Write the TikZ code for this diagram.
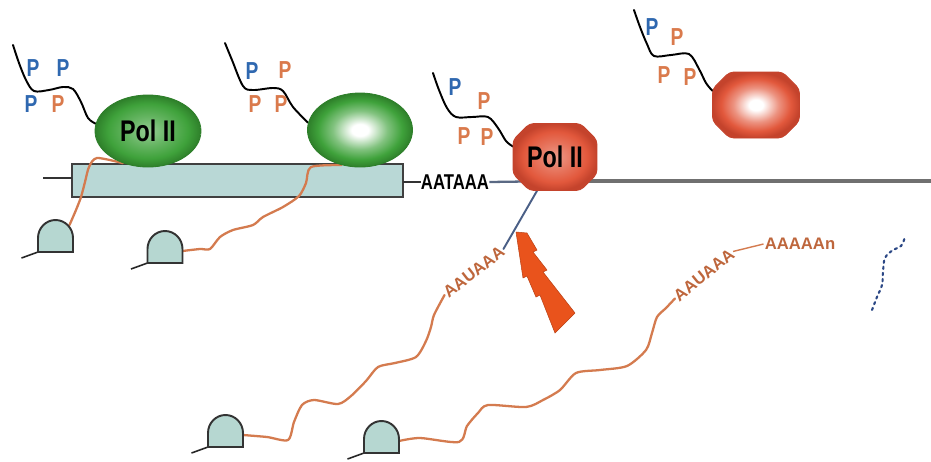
\documentclass[tikz,border=0pt]{standalone}
\usepackage{fontspec}
\setmainfont{Liberation Sans}
\newfontfamily\condbf{Liberation Sans}[FakeStretch=0.78]
\usetikzlibrary{shapes.geometric}

\definecolor{polgreen}{HTML}{3FA23B}
\definecolor{polgreendark}{HTML}{2E7F2A}
\definecolor{polred}{HTML}{E2583C}
\definecolor{polreddark}{HTML}{C4432C}
\definecolor{rnaorange}{HTML}{D47B4F}
\definecolor{rnatext}{HTML}{BE663C}
\definecolor{pblue}{HTML}{2F68B0}
\definecolor{porange}{HTML}{DA7A4C}
\definecolor{genefill}{HTML}{B9D8D6}
\definecolor{capfill}{HTML}{B6D7D1}
\definecolor{boltred}{HTML}{E9531C}
\definecolor{dnagray}{HTML}{707070}
\definecolor{stubblue}{HTML}{4A5F86}
\definecolor{dotblue}{HTML}{2B4785}

\pgfdeclareradialshading{greenglow}{\pgfpoint{0bp}{0bp}}{color(0bp)=(white); color(4bp)=(white); color(13bp)=(polgreen!65!white); color(20bp)=(polgreen); color(25bp)=(polgreendark); color(50bp)=(polgreendark)}
\pgfdeclareradialshading{greenflat}{\pgfpoint{0bp}{0bp}}{color(0bp)=(polgreen!55!white); color(10bp)=(polgreen!80!white); color(19bp)=(polgreen); color(25bp)=(polgreendark); color(50bp)=(polgreendark)}
\pgfdeclareradialshading{redglow}{\pgfpoint{0bp}{0bp}}{color(0bp)=(white); color(4bp)=(white); color(13bp)=(polred!65!white); color(20bp)=(polred); color(25bp)=(polreddark); color(50bp)=(polreddark)}
\pgfdeclareradialshading{redflat}{\pgfpoint{0bp}{0bp}}{color(0bp)=(polred!60!white); color(10bp)=(polred!82!white); color(19bp)=(polred); color(25bp)=(polreddark); color(50bp)=(polreddark)}

\pgfdeclarelayer{bg}
\pgfdeclarelayer{mid}
\pgfsetlayers{bg,mid,main}

\begin{document}
\begin{tikzpicture}[x=0.02cm, y=-0.02cm,
  ctd/.style={line width=1.1pt, black, line cap=round, line join=round},
  rna/.style={line width=1.3pt, rnaorange, line cap=round, line join=round},
  stub/.style={line width=1.1pt, stubblue, line cap=round},
  dnathin/.style={line width=1.0pt, black!80},
  dnablue/.style={line width=1.3pt, stubblue!70!gray},
  dnathick/.style={line width=2.2pt, dnagray},
  genebox/.style={draw=black!75, line width=1.2pt, fill=genefill, minimum width=6.62cm, minimum height=0.66cm, inner sep=0pt, outer sep=0pt},
  polegg/.style={ellipse, shade, draw=polgreendark, line width=0.5pt, inner sep=0pt},
  polframe/.style={rectangle, inner sep=0pt, outer sep=0pt},
  octline/.style={draw=polreddark, line width=0.5pt, rounded corners=2.5pt},
  poltext/.style={font=\condbf\bfseries\fontsize{17}{17}\selectfont, text=black},
  ptext/.style={font=\condbf\bfseries\fontsize{14}{14}\selectfont, inner sep=0pt},
  pb/.style={ptext, text=pblue},
  po/.style={ptext, text=porange},
  signal/.style={font=\condbf\bfseries\fontsize{12.2}{12.2}\selectfont, inner sep=0pt, text=black},
  rnaseq/.style={font=\bfseries\fontsize{9.5}{9.5}\selectfont, inner sep=0.5pt, text=rnatext},
  capdome/.pic={
    \draw[line width=0.9pt, black!85] (-17.5,0) -- (-34,6);
    \draw[line width=1.1pt, black!80, fill=capfill]
      (-17.5,0) -- (-17.5,-14) to[out=90,in=180] (0,-32)
      to[out=0,in=90] (17.5,-14) -- (17.5,0) -- cycle;
    \coordinate (-east) at (17.5,-12);
    \coordinate (-ne) at (14,-27);
  }]

\newcommand\octagonpath[2]{%
  ([xshift=#2]#1.north west) -- ([xshift=-#2]#1.north east)
  -- ([yshift=-#2]#1.north east) -- ([yshift=#2]#1.south east)
  -- ([xshift=-#2]#1.south east) -- ([xshift=#2]#1.south west)
  -- ([yshift=#2]#1.south west) -- ([yshift=-#2]#1.north west) -- cycle}

\useasboundingbox (0,0) rectangle (931,461);

% white sheet and gene body on the template
\begin{pgfonlayer}{bg}
  \fill[white] (0,0) rectangle (931,461);
  \node[genebox] (gene) at (237.5,180.5) {};
\end{pgfonlayer}

% polymerases
\node[polegg, shading=greenflat, minimum width=2.12cm, minimum height=1.44cm] (pol1) at (148,131) {};
\node[poltext] (pol1txt) at (pol1.center) {Pol II};
\node[polegg, shading=greenglow, minimum width=2.1cm, minimum height=1.48cm] (pol2) at (360,130) {};

\node[polframe, minimum width=1.68cm, minimum height=1.34cm] (pol3) at (555,157) {};
\shade[shading=redflat, octline] \octagonpath{pol3}{0.33cm};
\node[poltext] (pol3txt) at (pol3.center) {Pol II};
\node[polframe, minimum width=1.74cm, minimum height=1.32cm] (pol4) at (756,105) {};
\shade[shading=redglow, octline] \octagonpath{pol4}{0.34cm};

% polyadenylation signal in the DNA
\node[signal] (sig) at (455,182) {AATAAA};

% capped transcripts
\pic (c1) at (55.5,252) {capdome};
\pic (c2) at (165,263) {capdome};
\pic (c3) at (225.5,447) {capdome};
\pic (c4) at (381.5,453) {capdome};

% RNA signal sequences and poly(A) tail
\node[rnaseq, rotate=38] (aau1) at (474,272) {AAUAAA};
\node[rnaseq, rotate=39] (aau2) at (704,275) {AAUAAA};
\node[rnaseq] (polyA) at (800,244) {AAAAAn};

% phosphorylated CTD residues
\node[pb] (p1a) at (33,68) {P};
\node[pb] (p1b) at (63,68) {P};
\node[pb] (p1c) at (31,104) {P};
\node[po] (p1d) at (58,104) {P};
\node[pb] (p2a) at (252,71) {P};
\node[po] (p2b) at (285,70) {P};
\node[po] (p2c) at (255,104) {P};
\node[po] (p2d) at (281,104) {P};
\node[pb] (p3a) at (455,87) {P};
\node[po] (p3b) at (484,101) {P};
\node[po] (p3c) at (464,136) {P};
\node[po] (p3d) at (487,137) {P};
\node[pb] (p4a) at (652,27) {P};
\node[po] (p4b) at (677,37) {P};
\node[po] (p4c) at (664,75) {P};
\node[po] (p4d) at (690,77) {P};

% cleavage factor
\fill[boltred, draw=boltred!80!black, line width=0.3pt, line join=round]
  (516,232) -- (527,233) -- (537,250) -- (533,252) -- (547,270) -- (543,272)
  -- (575,313) -- (555,333) -- (540,295) -- (536,297) -- (527,276) -- (523,278) -- cycle;

% degraded downstream RNA
\draw[dotblue, line width=1.2pt, dash pattern=on 1.3pt off 2.2pt, line cap=round]
  plot[smooth, tension=0.6] coordinates {(872,310) (877,297) (882,285) (883,272)
  (885,258) (893,250) (901,246) (905,237)};

% DNA template
\begin{pgfonlayer}{bg}
  \coordinate (dnaL) at (43,178);
  \coordinate (dnaM) at (560,181);
  \coordinate (dnaR) at (931,181);
  \draw[dnathin] (dnaL) -- (gene.west |- dnaL);
  \draw[dnathin] (gene.east |- sig.west) -- (sig.west);
  \draw[dnablue] (sig.east) -- (dnaM);
  \draw[dnathick] (dnaM) -- (dnaR);
\end{pgfonlayer}

\begin{pgfonlayer}{mid}
  % CTD tails
  \draw[ctd] plot[smooth, tension=0.55] coordinates {(13,45) (19,63) (26,80) (34,91)
    (49,90) (63,87) (73,89) (81,102) (88,118) (pol1.172)};
  \draw[ctd] plot[smooth, tension=0.55] coordinates {(225,43) (232,60) (243,86) (253,90)
    (273,88) (283,91) (293,107) (pol2.172)};
  \draw[ctd] plot[smooth, tension=0.55] coordinates {(433,73) (439,90) (447,108) (456,117)
    (472,117) (488,117) (498,128) (506,141) (pol3.166)};
  \draw[ctd] plot[smooth, tension=0.55] coordinates {(634,10) (640,27) (647,44) (654,56)
    (671,55) (689,54) (699,69) (706,83) (pol4.162)};

  % nascent transcripts
  \draw[rna] plot[smooth, tension=0.45] coordinates {(c1-ne) (76,210) (81,197)
    (85,182) (89,167) (97,158) (pol1.-128)};
  \draw[rna] plot[smooth, tension=0.45] coordinates {(c2-east) (200,249) (210,249)
    (220,237) (233,230) (253,225) (263,217) (283,207) (299,196) (306,183) (311,167)
    (pol2.-118)};
  \draw[rna] plot[smooth, tension=0.45] coordinates {(c3-east) (267,437) (288,440)
    (294,422) (302,405) (314,400) (338,404) (351,396) (366,381) (378,367) (395,363)
    (416,357) (426,341) (431,327) (434,315) (aau1.west)};
  \draw[stub] (aau1.east) -- (pol3.-118);
  \draw[rna] plot[smooth, tension=0.45] coordinates {(c4-east) (420,438) (459,442)
    (467,426) (478,413) (488,405) (526,407) (543,400) (560,390) (576,373) (600,370)
    (627,366) (646,350) (652,333) (657,317) (666,308) (aau2.west)};
  \draw[rnaorange, line width=0.8pt] (aau2.east) -- (polyA.west);
\end{pgfonlayer}
\end{tikzpicture}
\end{document}
